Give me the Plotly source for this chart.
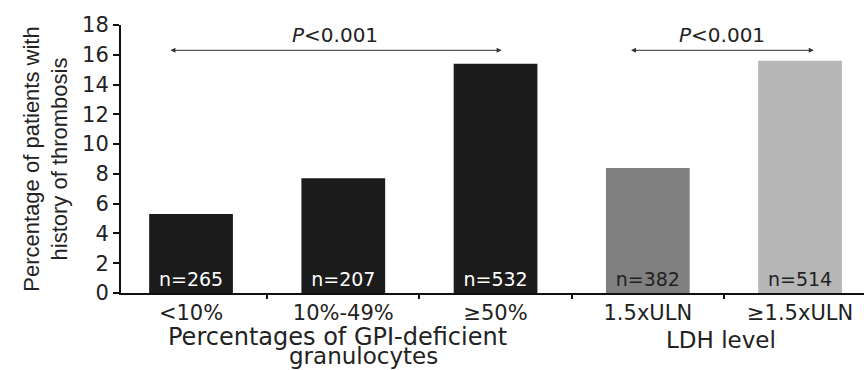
import plotly.graph_objects as go

categories = ["<10%", "10%-49%", "≥50%", "1.5xULN", "≥1.5xULN"]
values = [5.3, 7.7, 15.4, 8.4, 15.6]
n_labels = ["n=265", "n=207", "n=532", "n=382", "n=514"]
bar_colors = ["#1b1b1b", "#1b1b1b", "#1b1b1b", "#808080", "#b6b6b6"]
n_text_colors = ["#ffffff", "#ffffff", "#ffffff", "#222222", "#222222"]
ytick_vals = [0, 2, 4, 6, 8, 10, 12, 14, 16, 18]
pvalue_text = "<i>P</i><0.001"

FONT = "DejaVu Sans, Liberation Sans, Arial"
xs = list(range(len(categories)))

fig = go.Figure()
fig.add_trace(go.Bar(
    x=xs, y=values, width=0.55,
    marker=dict(color=bar_colors, line=dict(width=0)),
    text=n_labels, textposition="inside", insidetextanchor="start",
    textfont=dict(family=FONT, size=19, color=n_text_colors),
    textangle=0, cliponaxis=False, showlegend=False, hoverinfo="skip",
))

fig.update_layout(
    width=864, height=370,
    margin=dict(l=121, r=0, t=25, b=77),
    plot_bgcolor="white", paper_bgcolor="white",
    font=dict(family=FONT, color="#222222"),
    uniformtext=dict(minsize=8, mode="show"),
    bargap=0.45,
)
fig.update_xaxes(
    range=[-0.46, 4.42],
    tickmode="array", tickvals=xs, ticktext=categories,
    ticks="", showgrid=False, zeroline=False,
    showline=True, linecolor="#111111", linewidth=2,
    tickfont=dict(family=FONT, size=21, color="#222222"),
    minor=dict(tickvals=[0.5, 1.5, 2.5, 3.5], ticks="outside", ticklen=4,
               tickwidth=2, tickcolor="#111111", showgrid=False),
)
fig.update_yaxes(
    range=[0, 18], tickvals=ytick_vals,
    ticks="outside", ticklen=6, tickwidth=2, tickcolor="#111111",
    showgrid=False, zeroline=False,
    showline=True, linecolor="#111111", linewidth=2,
    tickfont=dict(family=FONT, size=21, color="#222222"),
    title=dict(text="Percentage of patients with<br>history of thrombosis",
               font=dict(family="Liberation Sans, Arial", size=22, color="#222222"),
               standoff=8),
)

# significance arrows
arrows = [(-0.145, 2.04, 16.3), (2.88, 4.09, 16.3)]
for x0, x1, yv in arrows:
    fig.add_annotation(x=x1, y=yv, ax=x0, ay=yv, xref="x", yref="y", axref="x", ayref="y",
                       text="", showarrow=True, arrowhead=2, arrowside="end+start",
                       arrowsize=1, arrowwidth=1, arrowcolor="#333333")
    fig.add_annotation(x=(x0 + x1) / 2, y=yv, xref="x", yref="y", yanchor="bottom",
                       text=pvalue_text, showarrow=False, yshift=1,
                       font=dict(family=FONT, size=20, color="#222222"))

# group titles
fig.add_annotation(x=0.96, y=0, xref="x", yref="paper", yshift=-44, yanchor="middle",
                   text="Percentages of GPI-deficient", showarrow=False,
                   font=dict(family=FONT, size=24, color="#222222"))
fig.add_annotation(x=1.13, y=0, xref="x", yref="paper", yshift=-63, yanchor="middle",
                   text="granulocytes", showarrow=False,
                   font=dict(family=FONT, size=23, color="#222222"))
fig.add_annotation(x=3.48, y=0, xref="x", yref="paper", yshift=-47, yanchor="middle",
                   text="LDH level", showarrow=False,
                   font=dict(family=FONT, size=23, color="#222222"))

fig.write_html("out.html")
